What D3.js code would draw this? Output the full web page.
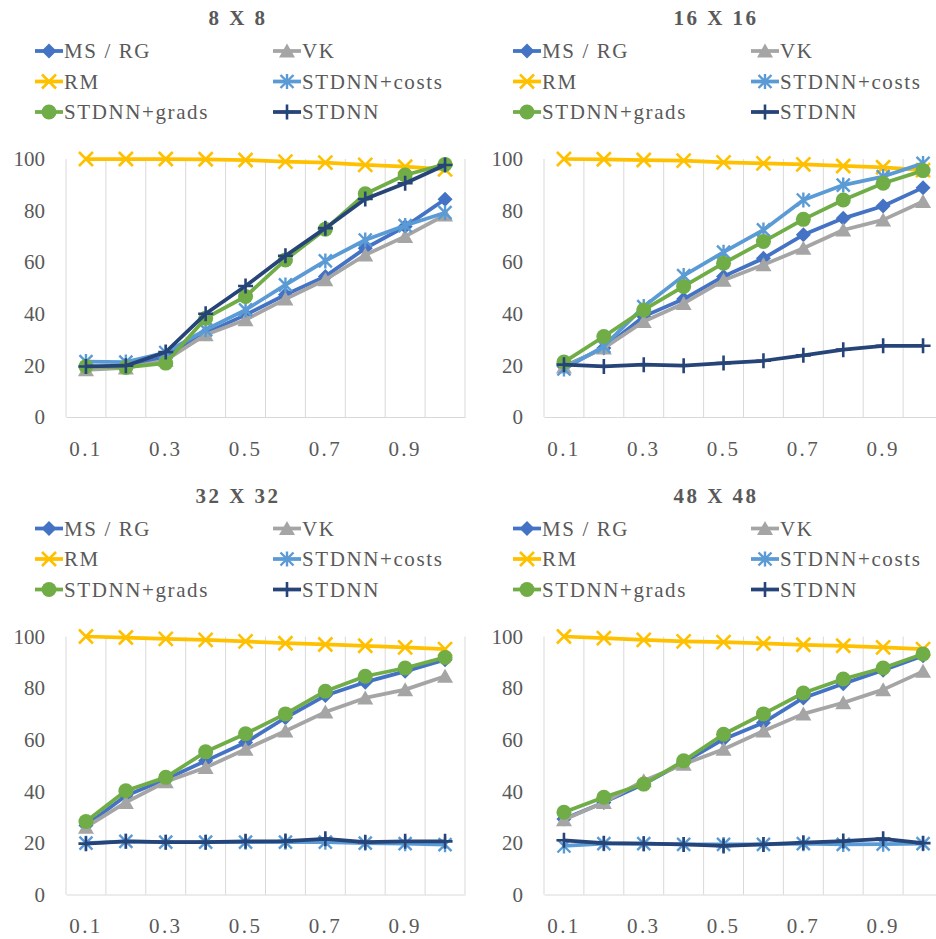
<!DOCTYPE html>
<html>
<head>
<meta charset="utf-8">
<script src="https://cdn.jsdelivr.net/npm/d3@7/dist/d3.min.js"></script>
<style>
  body { margin: 0; background: #fff; }
  svg text { font-family: "Liberation Serif", "Times New Roman", serif; }
</style>
</head>
<body>
<div id="chart"></div>
<script>
// ratios on the x axis
var categories = ["0.1", "0.2", "0.3", "0.4", "0.5", "0.6", "0.7", "0.8", "0.9", "1"];
var tickLabels = ["0.1", "0.3", "0.5", "0.7", "0.9"];
var yTicks = [0, 20, 40, 60, 80, 100];
var seriesNames = ["MS / RG", "VK", "RM", "STDNN+costs", "STDNN+grads", "STDNN"];
var titles = ["8 X 8", "16 X 16", "32 X 32", "48 X 48"];

// 8 x 8
var msrg8   = [19.4, 19.4, 23.5, 32.5, 39.6, 47.4, 54.5, 65.4, 73.8, 84.4];
var vk8     = [18.3, 19.0, 22.0, 31.9, 37.7, 45.7, 53.2, 62.8, 70.0, 78.3];
var rm8     = [100, 100, 100, 99.9, 99.6, 99.0, 98.6, 97.7, 97.0, 96.0];
var costs8  = [21.5, 21.3, 25.0, 33.8, 41.5, 51.2, 60.5, 68.6, 74.2, 79.2];
var grads8  = [19.6, 19.2, 20.9, 38.3, 46.7, 60.9, 72.8, 86.5, 93.8, 97.9];
var stdnn8  = [19.6, 19.9, 25.2, 40.0, 50.8, 62.5, 73.2, 84.5, 90.6, 97.7];

// 16 x 16
var msrg16  = [19.6, 26.7, 39.0, 45.7, 54.5, 61.5, 70.6, 77.0, 81.8, 88.9];
var vk16    = [19.4, 26.7, 37.0, 44.0, 53.0, 59.0, 65.4, 72.5, 76.4, 83.5];
var rm16    = [100, 99.9, 99.6, 99.4, 98.7, 98.3, 97.9, 97.3, 96.8, 95.7];
var costs16 = [18.6, 27.4, 42.8, 54.8, 63.9, 72.5, 84.1, 89.9, 93.2, 98.3];
var grads16 = [21.3, 31.2, 41.5, 50.6, 59.6, 68.0, 76.6, 84.1, 90.6, 95.5];
var stdnn16 = [20.3, 19.6, 20.3, 19.9, 20.9, 21.8, 23.9, 26.1, 27.6, 27.6];

// 32 x 32
var msrg32  = [26.7, 38.3, 44.7, 51.8, 58.9, 68.5, 77.1, 82.3, 86.5, 91.0];
var vk32    = [26.1, 35.7, 43.7, 49.2, 56.3, 63.4, 70.7, 76.2, 79.4, 84.6];
var rm32    = [100, 99.6, 99.1, 98.7, 98.1, 97.4, 96.9, 96.4, 95.8, 95.1];
var costs32 = [19.9, 20.6, 20.3, 20.3, 20.3, 20.3, 20.3, 19.9, 19.7, 19.3];
var grads32 = [28.3, 40.2, 45.4, 55.3, 62.3, 70.0, 78.8, 84.6, 87.8, 91.9];
var stdnn32 = [19.7, 20.6, 20.3, 20.3, 20.6, 20.7, 21.6, 20.3, 20.6, 20.6];

// 48 x 48
var msrg48  = [29.3, 35.7, 42.8, 51.2, 60.2, 66.6, 76.2, 81.7, 86.9, 92.5];
var vk48    = [29.0, 35.7, 44.1, 50.5, 56.3, 63.4, 70.0, 74.3, 79.4, 86.5];
var rm48    = [100, 99.4, 98.7, 98.1, 97.8, 97.3, 96.8, 96.4, 95.8, 95.1];
var costs48 = [18.8, 19.7, 19.7, 19.4, 19.4, 19.4, 19.7, 19.4, 19.5, 19.7];
var grads48 = [31.9, 37.7, 42.8, 51.8, 62.1, 70.0, 78.1, 83.5, 87.8, 93.2];
var stdnn48 = [21.0, 19.9, 19.7, 19.4, 18.8, 19.4, 20.1, 20.7, 21.6, 19.9];

var panelData = [
    [msrg8, vk8, rm8, costs8, grads8, stdnn8],
    [msrg16, vk16, rm16, costs16, grads16, stdnn16],
    [msrg32, vk32, rm32, costs32, grads32, stdnn32],
    [msrg48, vk48, rm48, costs48, grads48, stdnn48]
];

var colors = ["#4472C4", "#A5A5A5", "#FFC000", "#5B9BD5", "#70AD47", "#264478"];
var markers = ["diamond", "triangle", "x", "asterisk", "circle", "plus"];
var serif = '"Liberation Serif", "Times New Roman", serif';

var width = 936, height = 939;
var svg = d3.select("#chart").append("svg")
    .attr("width", width)
    .attr("height", height);

// marker drawing, Excel style
function drawMarker(g, type, color) {
    if (type == "diamond") {
        g.append("path").attr("d", "M0,-7.5L7.5,0L0,7.5L-7.5,0Z").attr("fill", color);
    } else if (type == "triangle") {
        g.append("path").attr("d", "M0,-7.5L8,6.5L-8,6.5Z").attr("fill", color);
    } else if (type == "circle") {
        g.append("circle").attr("r", 7.5).attr("fill", color);
    } else if (type == "x") {
        g.append("path").attr("d", "M-7,-7L7,7M-7,7L7,-7")
            .attr("stroke", color).attr("stroke-width", 2.6).attr("fill", "none");
    } else if (type == "asterisk") {
        g.append("path").attr("d", "M-6.5,-6.5L6.5,6.5M-6.5,6.5L6.5,-6.5M0,-7.5L0,7.5")
            .attr("stroke", color).attr("stroke-width", 2.4).attr("fill", "none");
    } else if (type == "plus") {
        g.append("path").attr("d", "M-7.5,0L7.5,0M0,-7.5L0,7.5")
            .attr("stroke", color).attr("stroke-width", 2.6).attr("fill", "none");
    }
}

function drawPanel(idx) {
    var dx = (idx % 2) * 478;
    var dy = Math.floor(idx / 2) * 477.5;
    var g = svg.append("g").attr("transform", "translate(" + dx + "," + dy + ")");

    var x = d3.scaleBand().domain(categories).range([66, 465]).padding(0);
    var y = d3.scaleLinear().domain([0, 100]).range([417, 159]);

    // title
    g.append("text")
        .attr("x", 238)
        .attr("y", 25)
        .attr("text-anchor", "middle")
        .style("font-family", serif)
        .style("font-size", "21px")
        .style("font-weight", "bold")
        .style("letter-spacing", "2.5px")
        .attr("fill", "#595959")
        .text(titles[idx]);

    // legend
    seriesNames.forEach(function(name, i) {
        var col = i % 2, row = Math.floor(i / 2);
        var lx = 35 + col * 238, ly = 51 + row * 30.5;
        var lg = g.append("g");
        lg.append("line")
            .attr("x1", lx).attr("x2", lx + 28)
            .attr("y1", ly).attr("y2", ly)
            .attr("stroke", colors[i]).attr("stroke-width", 3.75);
        drawMarker(lg.append("g").attr("transform", "translate(" + (lx + 14) + "," + ly + ")"), markers[i], colors[i]);
        lg.append("text")
            .attr("x", lx + 29)
            .attr("y", ly + 7)
            .style("font-family", serif)
            .style("font-size", "21px")
            .style("letter-spacing", "1.6px")
            .attr("fill", "#595959")
            .text(name);
    });

    // vertical gridlines at category boundaries
    var bounds = categories.map(function(c) { return x(c); }).concat([x.range()[1]]);
    g.selectAll(".vgrid")
        .data(bounds)
        .enter()
        .append("line")
        .attr("x1", function(d) { return d; })
        .attr("x2", function(d) { return d; })
        .attr("y1", y(100))
        .attr("y2", y(0))
        .attr("stroke", "#D9D9D9")
        .attr("stroke-width", 1);

    // x axis
    var xAxis = d3.axisBottom(x)
        .tickValues(tickLabels)
        .tickSize(0)
        .tickPadding(24);
    var xg = g.append("g")
        .attr("transform", "translate(0," + y(0) + ")")
        .call(xAxis)
        .attr("font-family", null)
        .attr("font-size", null);
    xg.select(".domain").attr("stroke", "#D9D9D9");
    xg.selectAll("text")
        .attr("fill", "#595959")
        .style("font-family", serif)
        .style("font-size", "21px")
        .style("letter-spacing", "2.4px");

    // y axis
    var yAxis = d3.axisLeft(y)
        .tickValues(yTicks)
        .tickSize(0)
        .tickPadding(21);
    var yg = g.append("g")
        .attr("transform", "translate(66,0)")
        .call(yAxis)
        .attr("font-family", null)
        .attr("font-size", null);
    yg.select(".domain").remove();
    yg.selectAll("text")
        .attr("fill", "#595959")
        .style("font-family", serif)
        .style("font-size", "21px");

    // series
    var line = d3.line()
        .x(function(d, i) { return x(categories[i]) + x.bandwidth() / 2; })
        .y(function(d) { return y(d); });

    panelData[idx].forEach(function(vals, s) {
        var sg = g.append("g");
        sg.append("path")
            .datum(vals)
            .attr("d", line)
            .attr("fill", "none")
            .attr("stroke", colors[s])
            .attr("stroke-width", 3.75)
            .attr("stroke-linejoin", "round");
        sg.selectAll(".pt")
            .data(vals)
            .enter()
            .append("g")
            .attr("transform", function(d, i) {
                return "translate(" + (x(categories[i]) + x.bandwidth() / 2) + "," + y(d) + ")";
            })
            .each(function() { drawMarker(d3.select(this), markers[s], colors[s]); });
    });
}

for (var p = 0; p < 4; p++) drawPanel(p);
</script>
</body>
</html>
